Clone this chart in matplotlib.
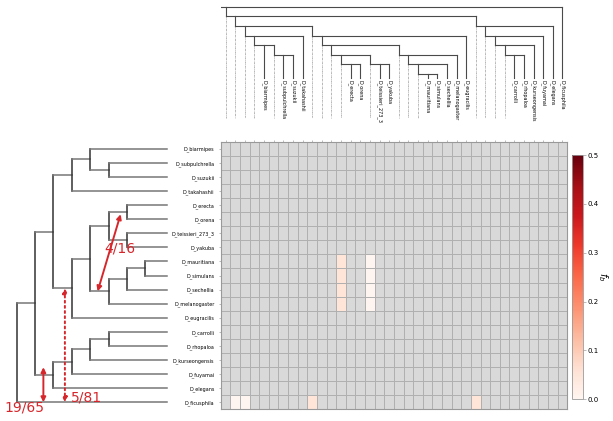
import numpy as np
import matplotlib
matplotlib.use("Agg")
import matplotlib.pyplot as plt

W, H, DPI = 613, 421, 100

# species tree as nested tuples, leaves are species names
MEL_GROUP = (
    (("D_erecta", "D_orena"), ("D_teissieri_273_3", "D_yakuba")),
    ((("D_mauritiana", "D_simulans"), "D_sechellia"), "D_melanogaster"),
)
SUZ_GROUP = (("D_biarmipes", ("D_subpulchrella", "D_suzukii")), "D_takahashii")
ELE_GROUP = (((("D_carrolli", "D_rhopaloa"), "D_kurseongensis"), "D_fuyamai"), "D_elegans")
TREE = (((SUZ_GROUP, (MEL_GROUP, "D_eugracilis")), ELE_GROUP), "D_ficusphila")

# f_b values: species (row) x branch column (preorder index, root excluded)
FB_ROWS = ["D_mauritiana", "D_simulans", "D_sechellia", "D_melanogaster",
           "D_mauritiana", "D_simulans", "D_sechellia", "D_melanogaster",
           "D_ficusphila", "D_ficusphila", "D_ficusphila", "D_ficusphila"]
FB_COLS = [12, 12, 12, 12, 15, 15, 15, 15, 1, 2, 9, 26]
FB_VALS = [0.05, 0.05, 0.05, 0.05, 0.0, 0.0, 0.0, 0.0, 0.0, 0.0, 0.05, 0.05]

CB_TICKS = [0.0, 0.1, 0.2, 0.3, 0.4, 0.5]

# introgression events drawn on the left tree: (from clade, to clade, label)
EVENT_LABELS = ["4/16", "5/81", "19/65"]

RED = "#d7262b"
LINE = "#4a4a4a"


def walk(n, depth, parent, nodes, leaves):
    rec = {"depth": depth, "parent": parent, "children": []}
    nodes.append(rec)
    if isinstance(n, str):
        rec["name"] = n
        rec["row"] = len(leaves)
        leaves.append(n)
    else:
        for ch in n:
            rec["children"].append(walk(ch, depth + 1, rec, nodes, leaves))
        rec["row"] = np.mean([c["row"] for c in rec["children"]])
    return rec


nodes, leaves = [], []
root = walk(TREE, 0, None, nodes, leaves)
for i, nd in enumerate(nodes):
    nd["col"] = i - 1
    nd["y"] = nd["row"] + 0.5
n_rows, n_cols = len(leaves), len(nodes) - 1

data = np.full((n_rows, n_cols), np.nan)
for sp, c, v in zip(FB_ROWS, FB_COLS, FB_VALS):
    data[leaves.index(sp), c] = v


def rect(l, t, r, b):
    return [l / W, 1 - b / H, (r - l) / W, (b - t) / H]


fig = plt.figure(figsize=(W / DPI, H / DPI), dpi=DPI)
HM_L, HM_T, HM_R, HM_B = 220.7, 141.7, 567.2, 409.3

# heatmap
ax = fig.add_axes(rect(HM_L, HM_T, HM_R, HM_B))
cmap = plt.get_cmap("Reds").copy()
cmap.set_bad("#d9d9d9")
mesh = ax.pcolormesh(np.ma.masked_invalid(data), cmap=cmap, vmin=0, vmax=0.5,
                     edgecolors="#b0b0b0", linewidth=0.6)
ax.set_xlim(0, n_cols)
ax.set_ylim(n_rows, 0)
ax.set_xticks(np.arange(n_cols) + 0.5)
ax.set_xticklabels([])
ax.set_yticks(np.arange(n_rows) + 0.5)
ax.set_yticklabels(leaves, fontsize=3.5)
ax.xaxis.tick_top()
ax.tick_params(length=1.5, width=0.4, color="#888888", pad=3)
for s in ax.spines.values():
    s.set_color("#999999")
    s.set_linewidth(0.8)

# colorbar
cax = fig.add_axes(rect(571.7, 155.0, 583.3, 399.3))
cb = fig.colorbar(mesh, cax=cax, ticks=CB_TICKS)
cb.outline.set_edgecolor("#999999")
cb.outline.set_linewidth(0.6)
cax.tick_params(labelsize=5, length=2, width=0.4, color="#888888", pad=1)
cb.set_label("$f_b$", rotation=270, fontsize=7, labelpad=8)

# tree above the heatmap: one column per branch
tax = fig.add_axes(rect(HM_L, 0, HM_R, HM_T))
tax.set_xlim(0, n_cols)
tax.set_ylim(14.06, -0.70)
tax.axis("off")
LEAF_LEVEL, DASH_END = 7.43, 11.6
for nd in nodes:
    if nd["parent"] is None:
        last = max(c["col"] for c in nd["children"])
        tax.plot([0, last + 0.5], [0, 0], color=LINE, lw=0.8)
        continue
    x = nd["col"] + 0.5
    top = nd["parent"]["depth"]
    if nd["children"]:
        tax.plot([x, x], [top, nd["depth"]], color=LINE, lw=0.8)
        tax.plot([x, x], [nd["depth"], DASH_END], color="#9a9a9a", lw=0.5,
                 ls=(0, (3, 1, 1, 1)))
        last = max(c["col"] for c in nd["children"])
        tax.plot([x, last + 0.5], [nd["depth"]] * 2, color=LINE, lw=0.8)
    else:
        tax.plot([x, x], [top, LEAF_LEVEL], color=LINE, lw=0.8)
        tax.text(x, LEAF_LEVEL + 0.2, nd["name"], rotation=270, ha="center",
                 va="top", fontsize=3.5)

# tree on the left, leaves aligned with heatmap rows
lax = fig.add_axes(rect(0, HM_T, HM_L, HM_B))
lax.set_xlim(-0.908, 11.09)
lax.set_ylim(n_rows, 0)
lax.axis("off")
LEAF_X = 8.15
for nd in nodes:
    nd["x"] = LEAF_X if not nd["children"] else nd["depth"]
for nd in nodes:
    if not nd["children"]:
        continue
    ys = [c["y"] for c in nd["children"]]
    lax.plot([nd["x"]] * 2, [min(ys), max(ys)], color="#333333", lw=1.1,
             solid_capstyle="projecting")
    for c in nd["children"]:
        lax.plot([nd["x"], c["x"]], [c["y"]] * 2, color="#777777", lw=1.1)


def clade(*names):
    # smallest node containing all given leaves
    best = None
    for nd in nodes:
        if set(names) <= set(leaf_names(nd)):
            if best is None or nd["depth"] > best["depth"]:
                best = nd
    return best


def leaf_names(nd):
    if not nd["children"]:
        return [nd["name"]]
    out = []
    for c in nd["children"]:
        out += leaf_names(c)
    return out


n_mel = clade("D_mauritiana", "D_melanogaster")
n_ere = clade("D_erecta", "D_orena")
n_sm = clade("D_biarmipes", "D_eugracilis")
n_mg = clade("D_erecta", "D_eugracilis")
n_el = clade("D_carrolli", "D_elegans")
fic = nodes[-1]


def arrow(x0, y0, x1, y1, ls="-"):
    lax.annotate("", xy=(x1, y1), xytext=(x0, y0),
                 arrowprops=dict(arrowstyle="<|-|>", color=RED, lw=1.4, ls=ls,
                                 mutation_scale=7, shrinkA=0, shrinkB=0),
                 annotation_clip=False)


arrow(n_mel["depth"] - 0.6, n_mel["y"], n_ere["depth"] - 0.35, n_ere["y"] + 0.15)
arrow(n_mg["depth"] - 0.38, n_mg["y"], n_mg["depth"] - 0.38, fic["y"], ls=":")
arrow(n_el["depth"] - 0.55, n_el["y"] - 0.55, n_el["depth"] - 0.55, fic["y"])

lax.text(5.62, 7.55, EVENT_LABELS[0], color=RED, fontsize=10, ha="center",
         va="center", clip_on=False)
lax.text(3.77, 18.13, EVENT_LABELS[1], color=RED, fontsize=10, ha="center",
         va="center", clip_on=False)
lax.text(0.42, 18.84, EVENT_LABELS[2], color=RED, fontsize=10, ha="center",
         va="center", clip_on=False)

fig.savefig("out.png", dpi=DPI)
